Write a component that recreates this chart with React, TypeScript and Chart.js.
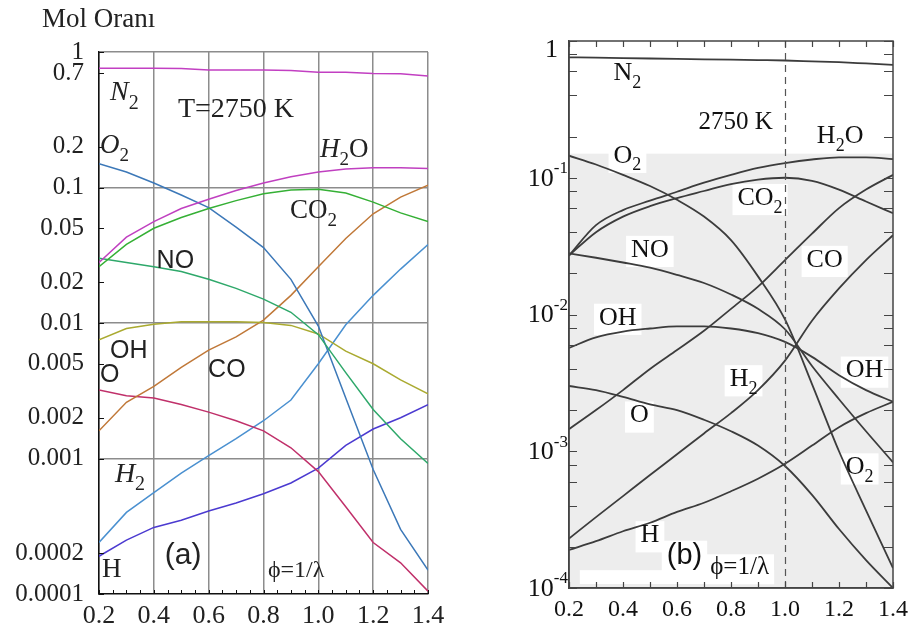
import React, { useEffect, useRef } from "react";
import { Chart, registerables } from "chart.js";
Chart.register(...registerables);

// ---------- data ----------
const PHI = [0.2, 0.3, 0.4, 0.5, 0.6, 0.7, 0.8, 0.9, 1.0, 1.1, 1.2, 1.3, 1.4];

// panel (a)
const N2_A = [0.76, 0.76, 0.76, 0.755, 0.735, 0.735, 0.735, 0.73, 0.71, 0.71, 0.695, 0.69, 0.665];
const H2O_A = [0.028, 0.043, 0.056, 0.07, 0.082, 0.095, 0.108, 0.12, 0.13, 0.137, 0.14, 0.14, 0.138];
const CO2_A = [0.026, 0.038, 0.05, 0.06, 0.07, 0.08, 0.09, 0.096, 0.097, 0.091, 0.078, 0.065, 0.056];
const O2_A = [0.15, 0.13, 0.108, 0.088, 0.071, 0.051, 0.036, 0.021, 0.0095, 0.0028, 0.00083, 0.0003, 0.00015];
const NO_A = [0.03, 0.028, 0.026, 0.024, 0.021, 0.018, 0.015, 0.012, 0.0082, 0.0043, 0.0023, 0.0014, 0.00092];
const OH_A = [0.0075, 0.0091, 0.0098, 0.0102, 0.0102, 0.0102, 0.0101, 0.0096, 0.0083, 0.0062, 0.005, 0.0038, 0.003];
const CO_A = [0.0016, 0.0026, 0.0034, 0.0047, 0.0063, 0.0079, 0.0105, 0.016, 0.026, 0.042, 0.064, 0.085, 0.104];
const O_A = [0.0032, 0.0029, 0.0028, 0.0025, 0.0022, 0.0019, 0.0016, 0.0012, 0.0008, 0.00044, 0.00024, 0.00017, 0.000105];
const H2_A = [0.00024, 0.0004, 0.00056, 0.00078, 0.00105, 0.0014, 0.0019, 0.0027, 0.005, 0.0097, 0.016, 0.025, 0.038];
const H_A = [0.00019, 0.00025, 0.00031, 0.00035, 0.00041, 0.00047, 0.00055, 0.00066, 0.00085, 0.00125, 0.00165, 0.002, 0.0025];

// panel (b)
const N2_B = [0.76, 0.755, 0.75, 0.745, 0.74, 0.735, 0.73, 0.725, 0.72, 0.71, 0.7, 0.685, 0.67];
const H2O_B = [0.027, 0.045, 0.058, 0.068, 0.079, 0.092, 0.105, 0.118, 0.128, 0.136, 0.141, 0.141, 0.137];
const CO2_B = [0.027, 0.04, 0.052, 0.062, 0.071, 0.08, 0.09, 0.097, 0.1, 0.095, 0.082, 0.067, 0.055];
const O2_B = [0.145, 0.125, 0.105, 0.087, 0.069, 0.052, 0.035, 0.019, 0.0092, 0.0031, 0.001, 0.00037, 0.00014];
const NO_B = [0.028, 0.026, 0.024, 0.022, 0.0195, 0.017, 0.014, 0.011, 0.0078, 0.0042, 0.0024, 0.0014, 0.00083];
const OH_B = [0.0057, 0.0068, 0.0075, 0.0079, 0.0082, 0.0082, 0.0079, 0.0073, 0.0063, 0.0049, 0.0036, 0.0028, 0.0023];
const CO_B = [0.00145, 0.002, 0.0028, 0.004, 0.0055, 0.0076, 0.011, 0.016, 0.025, 0.039, 0.06, 0.082, 0.105];
const O_B = [0.003, 0.0028, 0.0025, 0.0022, 0.002, 0.0017, 0.0014, 0.0011, 0.00078, 0.00048, 0.00027, 0.00016, 0.0001];
const H2_B = [0.00023, 0.00033, 0.00047, 0.00067, 0.00095, 0.00135, 0.0019, 0.0028, 0.0046, 0.009, 0.0155, 0.025, 0.038];
const H_B = [0.00019, 0.00022, 0.00026, 0.0003, 0.00036, 0.00042, 0.00051, 0.00063, 0.00081, 0.0011, 0.0015, 0.0019, 0.0023];

// ticks
const X_TICKS = [0.2, 0.4, 0.6, 0.8, 1.0, 1.2, 1.4];
const X_LABELS = ["0.2", "0.4", "0.6", "0.8", "1.0", "1.2", "1.4"];
const A_X_MINOR = [0.2, 0.25, 0.3, 0.35, 0.4, 0.45, 0.5, 0.55, 0.6, 0.65, 0.7, 0.75, 0.8, 0.85, 0.9, 0.95, 1.0, 1.05, 1.1, 1.15, 1.2, 1.25, 1.3, 1.35, 1.4];
const A_Y_TICKS = [1, 0.7, 0.2, 0.1, 0.05, 0.02, 0.01, 0.005, 0.002, 0.001, 0.0002, 0.0001];
const A_Y_LABELS = ["1", "0.7", "0.2", "0.1", "0.05", "0.02", "0.01", "0.005", "0.002", "0.001", "0.0002", "0.0001"];
const A_GRID_Y = [1, 0.1, 0.01, 0.001];
const B_X_MINOR = [0.2, 0.3, 0.4, 0.5, 0.6, 0.7, 0.8, 0.9, 1.0, 1.1, 1.2, 1.3, 1.4];
const B_Y_TICKS = [1, 0.1, 0.01, 0.001, 0.0001];
const B_Y_BASE = ["1", "10", "10", "10", "10"];
const B_Y_EXP = ["", "-1", "-2", "-3", "-4"];
const B_Y_MINOR = [1, 0.8, 0.6, 0.4, 0.2, 0.1, 0.08, 0.06, 0.04, 0.02, 0.01, 0.008, 0.006, 0.004, 0.002, 0.001, 0.0008, 0.0006, 0.0004, 0.0002, 0.0001];
const B_DASH_PHI = 1.0;

const TITLE_A = "Mol Oranı";

// ---------- styles ----------
const SERIF = "'Liberation Serif', 'Times New Roman', serif";
const SANS = "'Liberation Sans', Arial, sans-serif";

const SERIES_A = [
  { name: "N2", values: N2_A, color: "#c23fc2" },
  { name: "H2O", values: H2O_A, color: "#c040c0" },
  { name: "CO2", values: CO2_A, color: "#35b035" },
  { name: "NO", values: NO_A, color: "#2ea86a" },
  { name: "O2", values: O2_A, color: "#3c78b8" },
  { name: "OH", values: OH_A, color: "#aaaa30" },
  { name: "CO", values: CO_A, color: "#c07838" },
  { name: "O", values: O_A, color: "#c0306a" },
  { name: "H2", values: H2_A, color: "#4a90d0" },
  { name: "H", values: H_A, color: "#4b3ad0" },
];
const SERIES_B = [
  { name: "N2", values: N2_B },
  { name: "H2O", values: H2O_B },
  { name: "CO2", values: CO2_B },
  { name: "NO", values: NO_B },
  { name: "O2", values: O2_B },
  { name: "OH", values: OH_B },
  { name: "CO", values: CO_B },
  { name: "O", values: O_B },
  { name: "H2", values: H2_B },
  { name: "H", values: H_B },
];

type Part = { t: string; sub?: boolean; it?: boolean };
type Lbl = { parts: Part[]; phi: number; v: number; size: number; family: string };

const A_LABELS: Lbl[] = [
  { parts: [{ t: "N", it: true }, { t: "2", sub: true }], phi: 0.24, v: 0.44, size: 28, family: SERIF },
  { parts: [{ t: "T=2750 K" }], phi: 0.488, v: 0.33, size: 28, family: SERIF },
  { parts: [{ t: "O", it: true }, { t: "2", sub: true }], phi: 0.204, v: 0.18, size: 27, family: SERIF },
  { parts: [{ t: "H", it: true }, { t: "2", sub: true }, { t: "O" }], phi: 1.006, v: 0.168, size: 27, family: SERIF },
  { parts: [{ t: "CO" }, { t: "2", sub: true }], phi: 0.897, v: 0.0596, size: 27, family: SERIF },
  { parts: [{ t: "NO" }], phi: 0.41, v: 0.0255, size: 25, family: SANS },
  { parts: [{ t: "OH" }], phi: 0.24, v: 0.0055, size: 25, family: SANS },
  { parts: [{ t: "O" }], phi: 0.204, v: 0.00367, size: 25, family: SANS },
  { parts: [{ t: "CO" }], phi: 0.598, v: 0.004, size: 25, family: SANS },
  { parts: [{ t: "H", it: true }, { t: "2", sub: true }], phi: 0.258, v: 0.00067, size: 28, family: SERIF },
  { parts: [{ t: "H" }], phi: 0.211, v: 0.000133, size: 27, family: SERIF },
  { parts: [{ t: "(a)" }], phi: 0.44, v: 0.000166, size: 30, family: SANS },
  { parts: [{ t: "ϕ=1/λ" }], phi: 0.816, v: 0.000133, size: 24, family: SERIF },
];

const B_LABELS: Lbl[] = [
  { parts: [{ t: "N" }, { t: "2", sub: true }], phi: 0.365, v: 0.52, size: 26, family: SERIF },
  { parts: [{ t: "2750 K" }], phi: 0.68, v: 0.228, size: 25, family: SERIF },
  { parts: [{ t: "H" }, { t: "2", sub: true }, { t: "O" }], phi: 1.118, v: 0.18, size: 26, family: SERIF },
  { parts: [{ t: "O" }, { t: "2", sub: true }], phi: 0.365, v: 0.129, size: 26, family: SERIF },
  { parts: [{ t: "CO" }, { t: "2", sub: true }], phi: 0.824, v: 0.0635, size: 26, family: SERIF },
  { parts: [{ t: "NO" }], phi: 0.43, v: 0.0265, size: 26, family: SERIF },
  { parts: [{ t: "CO" }], phi: 1.08, v: 0.0224, size: 26, family: SERIF },
  { parts: [{ t: "OH" }], phi: 0.311, v: 0.00845, size: 26, family: SERIF },
  { parts: [{ t: "OH" }], phi: 1.225, v: 0.00347, size: 26, family: SERIF },
  { parts: [{ t: "H" }, { t: "2", sub: true }], phi: 0.795, v: 0.003, size: 26, family: SERIF },
  { parts: [{ t: "O" }], phi: 0.426, v: 0.00163, size: 26, family: SERIF },
  { parts: [{ t: "O" }, { t: "2", sub: true }], phi: 1.225, v: 0.00068, size: 26, family: SERIF },
  { parts: [{ t: "H" }], phi: 0.465, v: 0.000217, size: 26, family: SERIF },
  { parts: [{ t: "(b)" }], phi: 0.562, v: 0.00015, size: 29, family: SANS },
  { parts: [{ t: "ϕ=1/λ" }], phi: 0.723, v: 0.000126, size: 25, family: SERIF },
];

// ---------- helpers ----------
function partFont(p: Part, size: number, family: string) {
  const s = p.sub ? Math.round(size * 0.7) : size;
  return `${p.it ? "italic " : ""}${s}px ${family}`;
}
function measureParts(ctx: CanvasRenderingContext2D, parts: Part[], size: number, family: string) {
  let w = 0;
  for (const p of parts) {
    ctx.font = partFont(p, size, family);
    w += ctx.measureText(p.t).width;
  }
  return w;
}
function drawParts(ctx: CanvasRenderingContext2D, parts: Part[], x: number, y: number, size: number, family: string, color: string) {
  ctx.fillStyle = color;
  ctx.textAlign = "left";
  ctx.textBaseline = "alphabetic";
  let cx = x;
  for (const p of parts) {
    ctx.font = partFont(p, size, family);
    const dy = p.sub ? size * 0.3 : 0;
    ctx.fillText(p.t, cx, y + dy);
    cx += ctx.measureText(p.t).width;
  }
}
const pts = (vals: number[]) => PHI.map((x, i) => ({ x, y: vals[i] }));
const near = (a: number, b: number) => Math.abs(a - b) <= Math.abs(b) * 1e-6;

// ---------- plugins ----------
const plugA = {
  id: "plugA",
  afterDraw(chart: any) {
    const { ctx, chartArea: ca } = chart;
    const x = chart.scales.x;
    const y = chart.scales.y;
    ctx.save();
    ctx.strokeStyle = "#111";
    ctx.lineWidth = 1;
    for (const v of A_X_MINOR) {
      const px = Math.round(x.getPixelForValue(v)) + 0.5;
      ctx.beginPath();
      ctx.moveTo(px, ca.bottom);
      ctx.lineTo(px, ca.bottom - 4);
      ctx.stroke();
    }
    for (const v of A_Y_TICKS) {
      const py = Math.round(y.getPixelForValue(v)) + 0.5;
      ctx.beginPath();
      ctx.moveTo(ca.left, py);
      ctx.lineTo(ca.left + 5, py);
      ctx.stroke();
    }
    ctx.fillStyle = "#222";
    ctx.font = `27px ${SERIF}`;
    ctx.textAlign = "left";
    ctx.textBaseline = "alphabetic";
    ctx.fillText(TITLE_A, ca.left - 57, ca.top - 25);
    for (const l of A_LABELS) {
      drawParts(ctx, l.parts, x.getPixelForValue(l.phi), y.getPixelForValue(l.v), l.size, l.family, "#222");
    }
    ctx.restore();
  },
};

const plugB = {
  id: "plugB",
  beforeDraw(chart: any) {
    const { ctx, chartArea: ca } = chart;
    const x = chart.scales.x;
    const y = chart.scales.y;
    ctx.save();
    const gTop = y.getPixelForValue(0.15);
    ctx.fillStyle = "#ededed";
    ctx.fillRect(ca.left, gTop, ca.right - ca.left, ca.bottom - gTop);
    // bottom white band of the scan
    ctx.fillStyle = "#ffffff";
    const bTop = y.getPixelForValue(0.000135);
    ctx.fillRect(x.getPixelForValue(0.24), bTop, x.getPixelForValue(0.96) - x.getPixelForValue(0.24), ca.bottom - 4 - bTop);
    for (const l of B_LABELS) {
      const w = measureParts(ctx, l.parts, l.size, l.family);
      const px = x.getPixelForValue(l.phi);
      const py = y.getPixelForValue(l.v);
      ctx.fillStyle = "#ffffff";
      ctx.fillRect(px - 5, py - l.size * 0.8, w + 10, l.size * 1.2);
    }
    ctx.restore();
  },
  afterDraw(chart: any) {
    const { ctx, chartArea: ca } = chart;
    const x = chart.scales.x;
    const y = chart.scales.y;
    ctx.save();
    // dashed stoichiometric line
    const dx = Math.round(x.getPixelForValue(B_DASH_PHI)) + 0.5;
    ctx.strokeStyle = "#555";
    ctx.lineWidth = 1.2;
    ctx.setLineDash([7, 5]);
    ctx.beginPath();
    ctx.moveTo(dx, ca.top);
    ctx.lineTo(dx, ca.bottom);
    ctx.stroke();
    ctx.setLineDash([]);
    // frame
    ctx.strokeStyle = "#444";
    ctx.lineWidth = 1.5;
    ctx.strokeRect(ca.left, ca.top, ca.right - ca.left, ca.bottom - ca.top);
    // ticks
    ctx.lineWidth = 1.2;
    for (const v of B_X_MINOR) {
      const px = Math.round(x.getPixelForValue(v)) + 0.5;
      ctx.beginPath();
      ctx.moveTo(px, ca.bottom);
      ctx.lineTo(px, ca.bottom - 6);
      ctx.moveTo(px, ca.top);
      ctx.lineTo(px, ca.top + 6);
      ctx.stroke();
    }
    for (const v of B_Y_MINOR) {
      const py = Math.round(y.getPixelForValue(v)) + 0.5;
      ctx.beginPath();
      ctx.moveTo(ca.left, py);
      ctx.lineTo(ca.left + 8, py);
      ctx.moveTo(ca.right, py);
      ctx.lineTo(ca.right - 9, py);
      ctx.stroke();
    }
    // y labels with superscripts
    ctx.fillStyle = "#111";
    ctx.textBaseline = "middle";
    ctx.textAlign = "left";
    B_Y_TICKS.forEach((v, i) => {
      let py = y.getPixelForValue(v);
      const base = B_Y_BASE[i];
      const exp = B_Y_EXP[i];
      if (!exp) {
        py = Math.max(py, ca.top + 9);
        ctx.font = `26px ${SERIF}`;
        const w = ctx.measureText(base).width;
        ctx.fillText(base, ca.left - 11 - w, py);
      } else {
        ctx.font = `17px ${SERIF}`;
        const ew = ctx.measureText(exp).width;
        const er = ca.left - 1;
        ctx.fillText(exp, er - ew, py - 9);
        ctx.font = `26px ${SERIF}`;
        const bw = ctx.measureText(base).width;
        ctx.fillText(base, er - ew - bw, py + 1);
      }
    });
    for (const l of B_LABELS) {
      drawParts(ctx, l.parts, x.getPixelForValue(l.phi), y.getPixelForValue(l.v), l.size, l.family, "#111");
    }
    ctx.restore();
  },
};

// ---------- configs ----------
function configA(): any {
  return {
    type: "line",
    data: {
      datasets: SERIES_A.map((s) => ({
        label: s.name,
        data: pts(s.values),
        borderColor: s.color,
        borderWidth: 1.5,
        pointRadius: 0,
        tension: 0,
        fill: false,
      })),
    },
    options: {
      responsive: false,
      animation: false,
      layout: { padding: { top: 52, right: 32, left: 0, bottom: 0 } },
      plugins: { legend: { display: false }, tooltip: { enabled: false }, title: { display: false } },
      scales: {
        x: {
          type: "linear",
          min: 0.2,
          max: 1.4,
          afterBuildTicks: (s: any) => {
            s.ticks = X_TICKS.map((v) => ({ value: v }));
          },
          afterFit: (s: any) => {
            s.height = 40;
          },
          ticks: {
            callback: (_v: any, i: number) => X_LABELS[i],
            font: { family: SERIF, size: 26 },
            color: "#222",
            padding: 7,
            maxRotation: 0,
            autoSkip: false,
          },
          grid: { color: "#8c8c8c", lineWidth: 1.5, drawTicks: false },
          border: { color: "#111", width: 1.5 },
        },
        y: {
          type: "logarithmic",
          min: 0.0001,
          max: 1,
          afterBuildTicks: (s: any) => {
            s.ticks = A_Y_TICKS.map((v) => ({ value: v }));
          },
          afterFit: (s: any) => {
            s.width = 99;
          },
          ticks: {
            callback: (_v: any, i: number) => A_Y_LABELS[i],
            font: { family: SERIF, size: 25 },
            color: "#222",
            padding: 15,
            autoSkip: false,
          },
          grid: {
            color: (c: any) => (A_GRID_Y.some((g) => c.tick && near(c.tick.value, g)) ? "#8c8c8c" : "rgba(0,0,0,0)"),
            lineWidth: 1.5,
            drawTicks: false,
          },
          border: { color: "#111", width: 1.5 },
        },
      },
    },
    plugins: [plugA],
  };
}

function configB(): any {
  return {
    type: "line",
    data: {
      datasets: SERIES_B.map((s) => ({
        label: s.name,
        data: pts(s.values),
        borderColor: "#3c3c3c",
        borderWidth: 1.8,
        pointRadius: 0,
        cubicInterpolationMode: "monotone",
        fill: false,
      })),
    },
    options: {
      responsive: false,
      animation: false,
      layout: { padding: { top: 41, right: 11, left: 0, bottom: 0 } },
      plugins: { legend: { display: false }, tooltip: { enabled: false }, title: { display: false } },
      scales: {
        x: {
          type: "linear",
          min: 0.2,
          max: 1.4,
          afterBuildTicks: (s: any) => {
            s.ticks = X_TICKS.map((v) => ({ value: v }));
          },
          afterFit: (s: any) => {
            s.height = 46;
          },
          ticks: {
            callback: (_v: any, i: number) => X_LABELS[i],
            font: { family: SERIF, size: 24 },
            color: "#111",
            padding: 7,
            maxRotation: 0,
            autoSkip: false,
          },
          grid: { display: false, drawTicks: false },
          border: { color: "#444", width: 1.5 },
        },
        y: {
          type: "logarithmic",
          min: 0.0001,
          max: 1,
          afterBuildTicks: (s: any) => {
            s.ticks = B_Y_TICKS.map((v) => ({ value: v }));
          },
          afterFit: (s: any) => {
            s.width = 99;
          },
          ticks: { display: false },
          grid: { display: false, drawTicks: false },
          border: { color: "#444", width: 1.5 },
        },
      },
    },
    plugins: [plugB],
  };
}

export default function App() {
  const refA = useRef<HTMLCanvasElement>(null);
  const refB = useRef<HTMLCanvasElement>(null);
  useEffect(() => {
    const a = new Chart(refA.current as HTMLCanvasElement, configA());
    const b = new Chart(refB.current as HTMLCanvasElement, configB());
    return () => {
      a.destroy();
      b.destroy();
    };
  }, []);
  return (
    <div style={{ position: "absolute", left: 0, top: 0, width: 915, height: 634, background: "#fff", overflow: "hidden" }}>
      <canvas ref={refA} width={460} height={634} style={{ position: "absolute", left: 0, top: 0, width: 460, height: 634 }} />
      <canvas ref={refB} width={445} height={634} style={{ position: "absolute", left: 470, top: 0, width: 445, height: 634 }} />
    </div>
  );
}
